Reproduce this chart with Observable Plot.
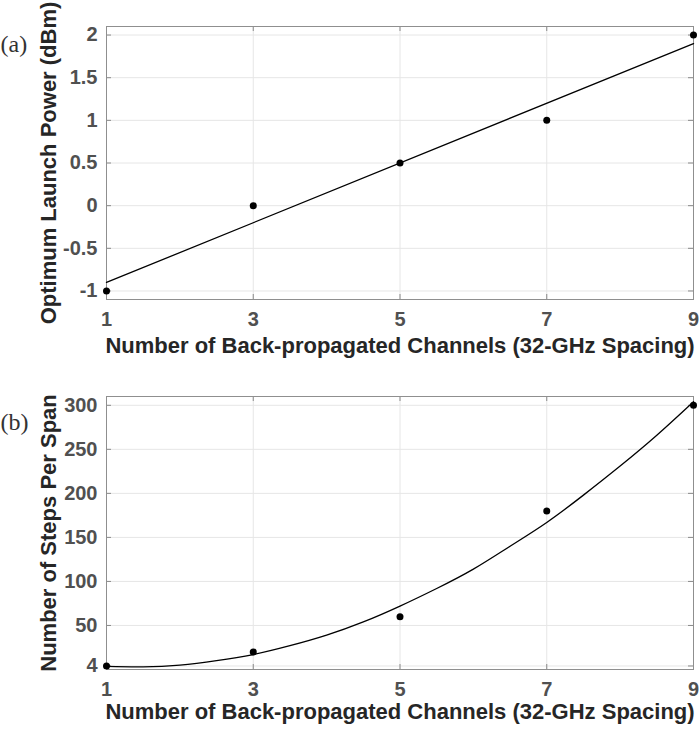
<!DOCTYPE html>
<html><head><meta charset="utf-8">
<script src="https://cdn.jsdelivr.net/npm/d3@7"></script>
<script src="https://cdn.jsdelivr.net/npm/@observablehq/plot@0.6"></script>
<style>body{margin:0;background:#fff}#chart{width:700px;height:732px}#chart svg{display:block}</style>
</head><body><div id="chart"></div><script>
// Data
const channels = [1, 3, 5, 7, 9];
const launchPower = [-1, 0, 0.5, 1, 2];
const steps = [4, 20, 60, 180, 300];
// fitted curve of panel (b)
const fitChannels = [1, 1.5, 2, 2.5, 3, 3.5, 4, 4.5, 5, 5.5, 6, 6.5, 7, 7.5, 8, 8.5, 9];
const fitSteps = [3.5, 3, 5, 10, 17, 27, 39, 54, 72, 92, 114, 140, 167, 198, 231, 266, 304];
const xTicks = [1, 3, 5, 7, 9];
const powerTicks = [-1, -0.5, 0, 0.5, 1, 1.5, 2];
const stepTicks = [4, 50, 100, 150, 200, 250, 300];
const xLabel = "Number of Back-propagated Channels (32-GHz Spacing)";
const yLabelA = "Optimum Launch Power (dBm)";
const yLabelB = "Number of Steps Per Span";
const panelA = "(a)";
const panelB = "(b)";

const dataA = channels.map((c, i) => ({x: c, y: launchPower[i]}));
const dataB = channels.map((c, i) => ({x: c, y: steps[i]}));
const fitB = fitChannels.map((c, i) => ({x: c, y: fitSteps[i]}));

const W = 700, ML = 106, MR = 7;
const sans = "'Liberation Sans', Arial, sans-serif";
const fmt = d => String(d);

function panel({height, mt, mb, yDomain, yTicks, yLabel, tag, tagDy, labelDy, marks}) {
  const plotH = height - mt - mb, plotW = W - ML - MR, tk = 5;
  return Plot.plot({
    width: W, height,
    marginLeft: ML, marginRight: MR, marginTop: mt, marginBottom: mb,
    style: {fontFamily: sans, fontWeight: "bold", background: "#fff"},
    x: {domain: [1, 9]},
    y: {domain: yDomain},
    marks: [
      Plot.gridX(xTicks, {stroke: "#e6e6e6", strokeOpacity: 1}),
      Plot.gridY(yTicks, {stroke: "#e6e6e6", strokeOpacity: 1}),
      Plot.tickX(xTicks, {x: d => d, insetTop: plotH - tk, stroke: "#8a8a8a"}),
      Plot.tickX(xTicks, {x: d => d, insetBottom: plotH - tk, stroke: "#8a8a8a"}),
      Plot.tickY(yTicks, {y: d => d, insetRight: plotW - tk, stroke: "#8a8a8a"}),
      Plot.tickY(yTicks, {y: d => d, insetLeft: plotW - tk, stroke: "#8a8a8a"}),
      Plot.frame({stroke: "#8f8f8f"}),
      Plot.axisX(xTicks, {tickSize: 0, tickPadding: 12, fontSize: 20, fill: "#505050", label: null, tickFormat: fmt}),
      Plot.axisY(yTicks, {tickSize: 0, tickPadding: 9, fontSize: 20, fill: "#505050", label: null, tickFormat: fmt}),
      ...marks,
      Plot.text([xLabel], {text: d => d, frameAnchor: "bottom", dy: labelDy, fontSize: 22, fill: "#262626"}),
      Plot.text([yLabel], {text: d => d, frameAnchor: "left", textAnchor: "middle", dx: -58, rotate: -90, fontSize: 22, fill: "#262626"}),
      Plot.text([tag], {text: d => d, frameAnchor: "top-left", dx: -ML, dy: tagDy, textAnchor: "start",
        fontFamily: "'Liberation Serif', 'Times New Roman', serif", fontWeight: "normal", fontSize: 24, fill: "#333"})
    ]
  });
}

const a = panel({
  height: 366, mt: 26, mb: 67, yDomain: [-1.1, 2.1], yTicks: powerTicks, yLabel: yLabelA,
  tag: panelA, tagDy: 8, labelDy: 53,
  marks: [
    Plot.linearRegressionY(dataA, {x: "x", y: "y", ci: 0, stroke: "#000", strokeWidth: 1.3}),
    Plot.dot(dataA, {x: "x", y: "y", r: 3.5, fill: "#000"})
  ]
});
const b = panel({
  height: 366, mt: 30, mb: 63, yDomain: [0, 310], yTicks: stepTicks, yLabel: yLabelB,
  tag: panelB, tagDy: 16, labelDy: 49,
  marks: [
    Plot.line(fitB, {x: "x", y: "y", curve: "natural", stroke: "#000", strokeWidth: 1.3}),
    Plot.dot(dataB, {x: "x", y: "y", r: 3.5, fill: "#000"})
  ]
});
document.getElementById("chart").append(a, b);
</script></body></html>
